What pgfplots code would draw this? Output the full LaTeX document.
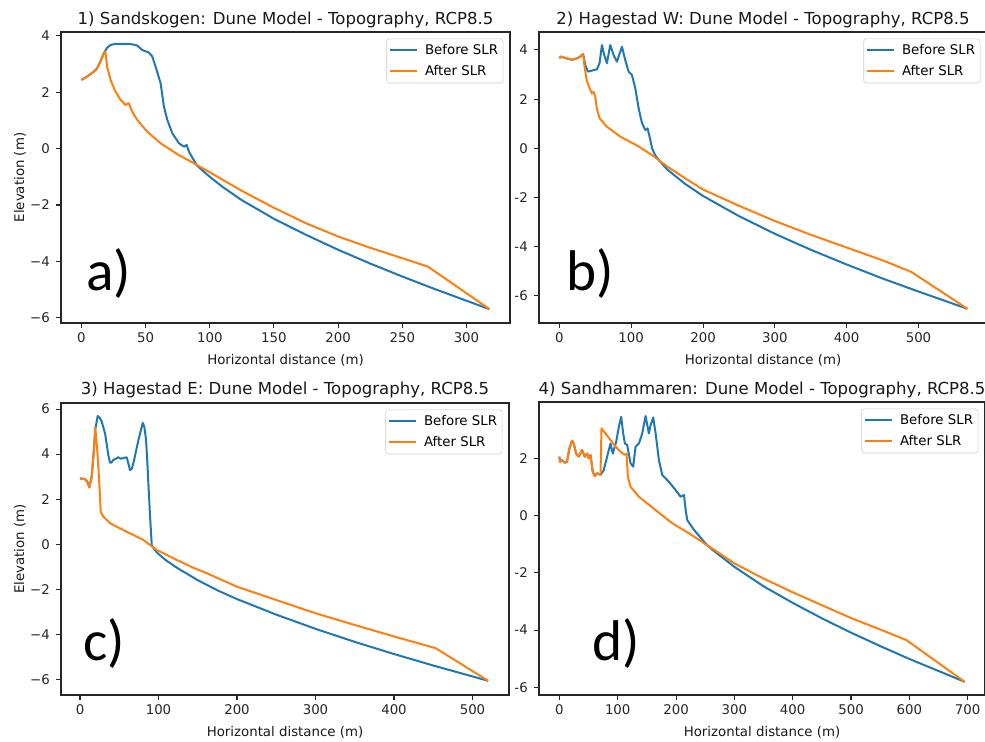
\documentclass[border=0pt]{standalone}
\usepackage{fontspec}
\setmainfont{DejaVu Sans}
\newfontfamily\lblfont{Carlito}
\usepackage{pgfplots}
\pgfplotsset{compat=1.18}
\definecolor{tabblue}{RGB}{31,119,180}
\definecolor{taborange}{RGB}{255,127,14}
\pgfplotsset{
  dune/.style={
    scale only axis,
    axis line style={line width=0.8pt, black!85},
    tick align=outside, tick pos=left, major tick length=3.5pt,
    every tick/.style={black!85, line width=0.8pt},
    tick label style={font=\fontsize{10}{12}\selectfont, text=black!85, inner sep=0pt},
    /pgf/number format/assume math mode=true,
    xticklabel style={anchor=base, yshift=-11.25pt},
    yticklabel style={anchor=east, xshift=-4.75pt},
    title style={font=\fontsize{12.4}{15}\selectfont, anchor=base, at={(0.5,1)},
                 inner sep=0pt, text=black!90},
    xlabel={Horizontal distance (m)},
    every axis x label/.style={at={(0.5,0)}, anchor=base, yshift=-30.75pt,
                 font=\fontsize{10}{12}\selectfont, inner sep=0pt, text=black!90},
    every axis y label/.style={at={(0,0.5)}, xshift=-30.75pt, rotate=90, anchor=center,
                 font=\fontsize{10}{12}\selectfont, inner sep=0pt, text=black!90},
    legend cell align=left,
    legend image code/.code={\draw[#1] (0pt,0pt) -- (20pt,0pt);},
    legend style={at={(1,1)}, anchor=north east, xshift=-5pt, yshift=-5pt,
                  font=\fontsize{10}{12}\selectfont, draw=black!20, rounded corners=2pt,
                  fill=white, fill opacity=0.8, text opacity=1,
                  inner xsep=1.75pt, inner ysep=1.9pt, row sep=2.25pt, column sep=3.5pt,
                  nodes={inner sep=2pt, text height=7.5pt, text depth=2pt}},
    every axis plot/.append style={line width=1.5pt, line join=round},
  }
}
\begin{document}
\begin{tikzpicture}
\path[use as bounding box] (0pt,0pt) rectangle (738.75pt,-556.5pt);

% 1) Sandskogen
\begin{axis}[dune, at={(45.75pt,-242.25pt)}, anchor=south west,
  width=336.75pt, height=218.25pt,
  xmin=-15.9, xmax=333.9, ymin=-6.19, ymax=4.14,
  xtick={0,50,...,300}, ytick={-6,-4,...,4},
  yticklabels={−6,−4,−2,0,2,4},
  ylabel={Elevation (m)},
  title={1) Sandskogen: Dune Model - Topography, RCP8.5}]
\addplot[tabblue] coordinates {(0,2.44) (4.4,2.56) (9.6,2.73) (12.2,2.85) (14.8,3.09) (17.4,3.38) (20,3.58) (22.7,3.68) (26.6,3.72) (35.7,3.72) (40,3.7) (43.5,3.66) (47.4,3.5) (52.6,3.41) (55.2,3.27) (57.8,2.91) (61.7,2.32) (64.3,1.49) (66.9,1.02) (70.8,0.55) (76,0.19) (79.9,0.07) (82,0.13) (83.8,-0.11) (90,-0.6) (100,-1.0) (110,-1.36) (125,-1.83) (150,-2.49) (175,-3.06) (200,-3.59) (225,-4.08) (250,-4.54) (275,-4.98) (300,-5.4) (318,-5.7)};
\addlegendentry{Before SLR}
\addplot[taborange] coordinates {(0,2.44) (4.4,2.56) (9.6,2.73) (12.2,2.85) (14.8,3.09) (17.4,3.38) (18.7,3.44) (20,2.91) (22.7,2.44) (26.6,2.02) (30.5,1.73) (34.4,1.55) (37,1.61) (39.6,1.31) (43.5,1.02) (51.3,0.6) (61.7,0.19) (74.8,-0.2) (87.7,-0.52) (100,-0.84) (125,-1.5) (150,-2.1) (175,-2.65) (200,-3.12) (225,-3.52) (250,-3.89) (270,-4.19) (318,-5.7)};
\addlegendentry{After SLR}
\end{axis}

% 2) Hagestad W
\begin{axis}[dune, at={(404.25pt,-242.25pt)}, anchor=south west,
  width=336pt, height=218.25pt,
  xmin=-28.4, xmax=595.4, ymin=-7.11, ymax=4.73,
  xtick={0,100,...,500}, ytick={-6,-4,...,4},
  yticklabels={-6,-4,-2,0,2,4},
  title={2) Hagestad W: Dune Model - Topography, RCP8.5}]
\addplot[tabblue] coordinates {(0,3.66) (2,3.73) (5,3.70) (10,3.66) (15,3.62) (18,3.6) (22,3.64) (25,3.66) (29,3.73) (33,3.84) (36,3.39) (39.7,3.12) (45.3,3.16) (52.2,3.21) (55.9,3.46) (59.2,4.2) (62.4,3.8) (66.2,3.46) (70.8,4.2) (75.4,3.8) (80.1,3.52) (87.1,4.13) (91.7,3.59) (96.3,3.12) (101,2.98) (105.7,2.44) (110.3,1.63) (115,1.02) (119.6,0.74) (122.8,0.81) (126.6,0.34) (129,0.0) (133.6,-0.3) (140,-0.53) (150,-0.86) (175,-1.45) (200,-1.94) (250,-2.76) (300,-3.48) (350,-4.13) (400,-4.73) (450,-5.3) (500,-5.83) (568,-6.53)};
\addlegendentry{Before SLR}
\addplot[taborange] coordinates {(0,3.66) (2,3.73) (5,3.70) (10,3.66) (15,3.62) (18,3.6) (22,3.64) (25,3.66) (29,3.73) (33,3.84) (35,3.32) (38,2.78) (42,2.44) (45,2.24) (47.5,2.3) (50,2.1) (52,1.63) (56,1.22) (66,0.88) (85,0.47) (110,0.08) (130,-0.3) (150,-0.74) (175,-1.22) (200,-1.68) (250,-2.34) (300,-2.96) (350,-3.52) (400,-4.04) (450,-4.56) (490,-5.03) (568,-6.53)};
\addlegendentry{After SLR}
\end{axis}

% 3) Hagestad E
\begin{axis}[dune, at={(45.75pt,-521.25pt)}, anchor=south west,
  width=336pt, height=219pt,
  xmin=-24.2, xmax=546.5, ymin=-6.7, ymax=6.27,
  xtick={0,100,...,500}, ytick={-6,-4,...,6},
  yticklabels={−6,−4,−2,0,2,4,6},
  ylabel={Elevation (m)},
  title={3) Hagestad E: Dune Model - Topography, RCP8.5}]
\addplot[tabblue] coordinates {(0,2.92) (6.4,2.89) (9.3,2.77) (11.9,2.52) (14.9,3.0) (17,3.88) (19.5,5.1) (22.5,5.69) (25,5.62) (27.6,5.45) (31.9,4.92) (36.1,3.96) (38.2,3.62) (40,3.62) (42.5,3.74) (45,3.78) (48.8,3.86) (52,3.8) (55.2,3.82) (59.5,3.86) (61.5,3.6) (63.7,3.29) (66,3.35) (68,3.59) (74.4,4.62) (80,5.39) (82,5.2) (84.2,4.62) (86,3.5) (87.1,2.7) (89.3,1.22) (91.4,-0.04) (95,-0.25) (100,-0.44) (110,-0.73) (125,-1.08) (150,-1.6) (175,-2.05) (200,-2.44) (250,-3.13) (300,-3.76) (350,-4.34) (400,-4.88) (450,-5.39) (520,-6.07)};
\addlegendentry{Before SLR}
\addplot[taborange] coordinates {(0,2.92) (6.4,2.89) (9.3,2.77) (11.9,2.52) (14.9,3.0) (17,3.88) (19.5,5.15) (22,4.18) (24.6,2.7) (26.4,1.44) (29.7,1.22) (38.3,0.93) (59.5,0.55) (80.7,0.19) (97.8,-0.26) (123.3,-0.70) (144.5,-1.05) (161.5,-1.29) (200,-1.89) (250,-2.48) (300,-3.07) (350,-3.59) (400,-4.1) (453,-4.62) (520,-6.07)};
\addlegendentry{After SLR}
\end{axis}

% 4) Sandhammaren
\begin{axis}[dune, at={(404.25pt,-521.25pt)}, anchor=south west,
  width=334.5pt, height=219.75pt,
  xmin=-35, xmax=729.75, ymin=-6.27, ymax=3.97,
  xtick={0,100,...,700}, ytick={-6,-4,...,2},
  yticklabels={-6,-4,-2,0,2},
  title={4) Sandhammaren: Dune Model - Topography, RCP8.5}]
\addplot[tabblue] coordinates {(0,2.06) (1,1.88) (4.5,1.94) (9.1,1.85) (13,1.88) (17.2,2.35) (21.7,2.62) (24.6,2.52) (28.5,2.17) (33.2,2.06) (38.8,2.29) (43.5,2.06) (47.4,2.17) (50.3,2.0) (53.3,2.12) (57.2,1.53) (60.7,1.38) (64.6,1.48) (70.4,1.42) (76,1.59) (81.8,2.06) (87.6,2.52) (91.5,2.17) (97.3,2.58) (101.9,3.1) (105.9,3.45) (109.4,2.87) (112.2,2.52) (116.2,2.47) (122,1.83) (126.5,1.71) (130.6,2.41) (136.3,2.52) (142,2.87) (147.7,3.48) (153.4,2.87) (156.3,3.16) (160.8,3.43) (165,2.87) (170.6,1.94) (176.3,1.42) (187.8,1.18) (199.3,0.89) (207.9,0.66) (213.6,0.72) (216.5,0.19) (219.3,-0.16) (230.8,-0.5) (250,-0.96) (262,-1.19) (300,-1.79) (350,-2.47) (400,-3.05) (450,-3.59) (500,-4.09) (550,-4.56) (600,-5.01) (650,-5.43) (695,-5.81)};
\addlegendentry{Before SLR}
\addplot[taborange] coordinates {(0,2.06) (1,1.88) (4.5,1.94) (9.1,1.85) (13,1.88) (17.2,2.35) (21.7,2.62) (24.6,2.52) (28.5,2.17) (33.2,2.06) (38.8,2.29) (43.5,2.06) (47.4,2.17) (50.3,2.0) (53.3,2.12) (57.2,1.53) (60.7,1.38) (64.6,1.48) (70.4,1.42) (72.2,3.05) (79,2.87) (87.6,2.64) (96.2,2.41) (104.8,2.23) (112.2,2.12) (115.1,2.17) (117.4,1.36) (122,1.01) (136.3,0.66) (165,0.19) (193.6,-0.27) (222.2,-0.62) (262,-1.15) (300,-1.67) (350,-2.2) (400,-2.68) (450,-3.13) (500,-3.58) (550,-3.98) (595,-4.35) (695,-5.81)};
\addlegendentry{After SLR}
\end{axis}

\node[anchor=base west, inner sep=0pt, font=\lblfont\fontsize{43}{43}\selectfont] at (64.5pt,-217.5pt) {a)};
\node[anchor=base west, inner sep=0pt, font=\lblfont\fontsize{43}{43}\selectfont] at (424.3pt,-217.5pt) {b)};
\node[anchor=base west, inner sep=0pt, font=\lblfont\fontsize{43}{43}\selectfont] at (62.25pt,-495pt) {c)};
\node[anchor=base west, inner sep=0pt, font=\lblfont\fontsize{43}{43}\selectfont] at (443.8pt,-495pt) {d)};
\end{tikzpicture}
\end{document}
